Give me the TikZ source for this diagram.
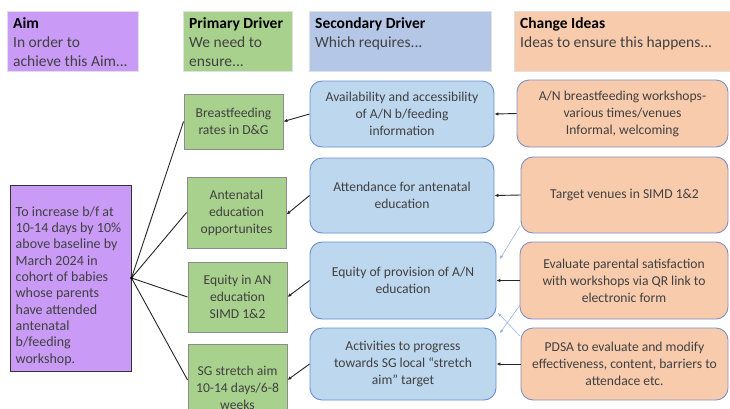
\documentclass[tikz,border=0pt]{standalone}
\usepackage{fontspec}
\setmainfont{Carlito}
\usetikzlibrary{positioning, arrows.meta}

\definecolor{aimc}{HTML}{C99BF7}
\definecolor{drvc}{HTML}{A9D18E}
\definecolor{hsecc}{HTML}{B4C7E7}
\definecolor{secc}{HTML}{BDD7EE}
\definecolor{secd}{HTML}{6A8FCF}
\definecolor{ideac}{HTML}{F8CBAD}
\definecolor{idead}{HTML}{7F90C2}
\definecolor{txtc}{HTML}{404040}
\definecolor{linkc}{HTML}{8FAEE0}

\begin{document}
\begin{tikzpicture}[x=1pt,y=-1pt]
			\tikzstyle{every node}=[font=\fontsize{13.6}{17}\selectfont, text=txtc, align=center, inner sep=0pt];
			\tikzstyle{hbox}=[draw=black!12, line width=0.6pt, anchor=north west, minimum height=60];
			\tikzstyle{htext}=[anchor=north west, align=left, font=\fontsize{15.5}{19}\selectfont];
			\tikzstyle{drvbox}=[draw=black!45, line width=0.9pt, fill=drvc, minimum width=99];
			\tikzstyle{secbox}=[draw=secd, line width=0.9pt, fill=secc, rounded corners=12pt];
			\tikzstyle{ideabox}=[draw=idead, line width=0.9pt, fill=ideac, rounded corners=12pt];
			\tikzstyle{arr}=[line width=0.9pt, black!85, -{Latex[length=4pt,width=3.5pt]}];
			\tikzstyle{link}=[line width=0.5pt, linkc, -{Latex[length=3.5pt,width=3pt]}];
			\useasboundingbox (0,0) rectangle (730,408);
			\clip (0,0) rectangle (730,408);
			\fill[white] (0,0) rectangle (730,408);
			% headings
			\node[hbox, fill=aimc, minimum width=131] (hAim) at (7,11) {};
			\node[hbox, fill=drvc, minimum width=109] (hPri) at (183,11) {};
			\node[hbox, fill=hsecc, minimum width=182] (hSec) at (309,11) {};
			\node[hbox, fill=ideac, minimum width=216] (hIdea) at (514,11) {};
			\node[htext] (tAim) at ([shift={(6pt,-6pt)}]hAim.north west) {\textbf{\color{black}Aim}\\In order to\\achieve this Aim...};
			\node[htext] (tPri) at ([shift={(6pt,-6pt)}]hPri.north west) {\textbf{\color{black}Primary Driver}\\We need to\\ensure...};
			\node[htext] (tSec) at ([shift={(6pt,-6pt)}]hSec.north west) {\textbf{\color{black}Secondary Driver}\\Which requires...};
			\node[htext] (tIdea) at ([shift={(6pt,-6pt)}]hIdea.north west) {\textbf{\color{black}Change Ideas}\\Ideas to ensure this happens...};
			% aim
			\node[draw=black!80, line width=1pt, fill=aimc, minimum width=121, minimum height=186] (aim) at (70.5,278) {};
			\node[align=left, anchor=west, font=\fontsize{14}{16.3}\selectfont] (aimtxt) at ([shift={(6pt,-8pt)}]aim.west)
				{To increase b/f at\\10-14 days by 10\%\\above baseline by\\March 2024 in\\cohort of babies\\whose parents\\have attended\\antenatal\\b/feeding\\workshop.};
			% primary drivers
			\node[drvbox, minimum height=55] (d1) at (233.5,121.5) {Breastfeeding\\rates in D\&G};
			\node[drvbox, minimum height=71] (d2) at (236.5,212.5) {Antenatal\\education\\opportunites};
			\node[drvbox, minimum height=70] (d3) at (237.5,297) {Equity in AN\\education\\SIMD 1\&2};
			\node[drvbox, minimum height=88] (d4) at (237.5,388) {SG stretch aim\\10-14 days/6-8\\weeks};
			% secondary drivers
			\node[secbox, minimum width=184, minimum height=66] (s1) at (402,114) {Availability and accessibility\\of A/N b/feeding\\information};
			\node[secbox, minimum width=184, minimum height=75] (s2) at (402,195.5) {Attendance for antenatal\\education};
			\node[secbox, minimum width=186, minimum height=77] (s3) at (403,280.5) {Equity of provision of A/N\\education};
			\node[secbox, minimum width=186, minimum height=72] (s4) at (403,364) {Activities to progress\\towards SG local ``stretch\\aim'' target};
			% change ideas
			\node[ideabox, minimum width=211, minimum height=67] (c1) at (622.5,113.5) {A/N breastfeeding workshops-\\various times/venues\\Informal, welcoming};
			\node[ideabox, minimum width=207, minimum height=76] (c2) at (624.5,195) {Target venues in SIMD 1\&2};
			\node[ideabox, minimum width=208, minimum height=77] (c3) at (624,280.5) {Evaluate parental satisfaction\\with workshops via QR link to\\electronic form};
			\node[ideabox, minimum width=207, minimum height=72] (c4) at (624.5,364) {PDSA to evaluate and modify\\effectiveness, content, barriers to\\attendace etc.};
			% connectors
			\draw[line width=0.9pt, black!85] (aim.east) -- (d1.west) (aim.east) -- (d2.west) (aim.east) -- (d3.west) (aim.east) -- ([yshift=8pt]d4.west);
			\fill[black] (aim.east) circle (1.6pt);
			\draw[arr] (s1.west) -- (d1.east);
			\draw[arr] (s2.west) -- ([yshift=-2pt]d2.east);
			\draw[arr] (s3.west) -- (d3.east);
			\draw[arr] (s4.west) -- ([yshift=8pt]d4.east);
			\draw[arr] (c1.west) -- (s1.east);
			\draw[arr] (c2.west) -- (s2.east);
			\draw[arr] (c3.west) -- (s3.east);
			\draw[arr] (c4.west) -- (s4.east);
			\coordinate (k1) at (520,226);
			\coordinate (k2) at (500,259);
			\coordinate (k3) at (520,305);
			\coordinate (k4) at (500,333);
			\coordinate (k5) at (520,336);
			\coordinate (k6) at (498,313);
			\draw[link] (k1) -- (k2);
			\draw[link] (k3) -- (k4);
			\draw[link] (k5) -- (k6);
		\end{tikzpicture}
\end{document}
